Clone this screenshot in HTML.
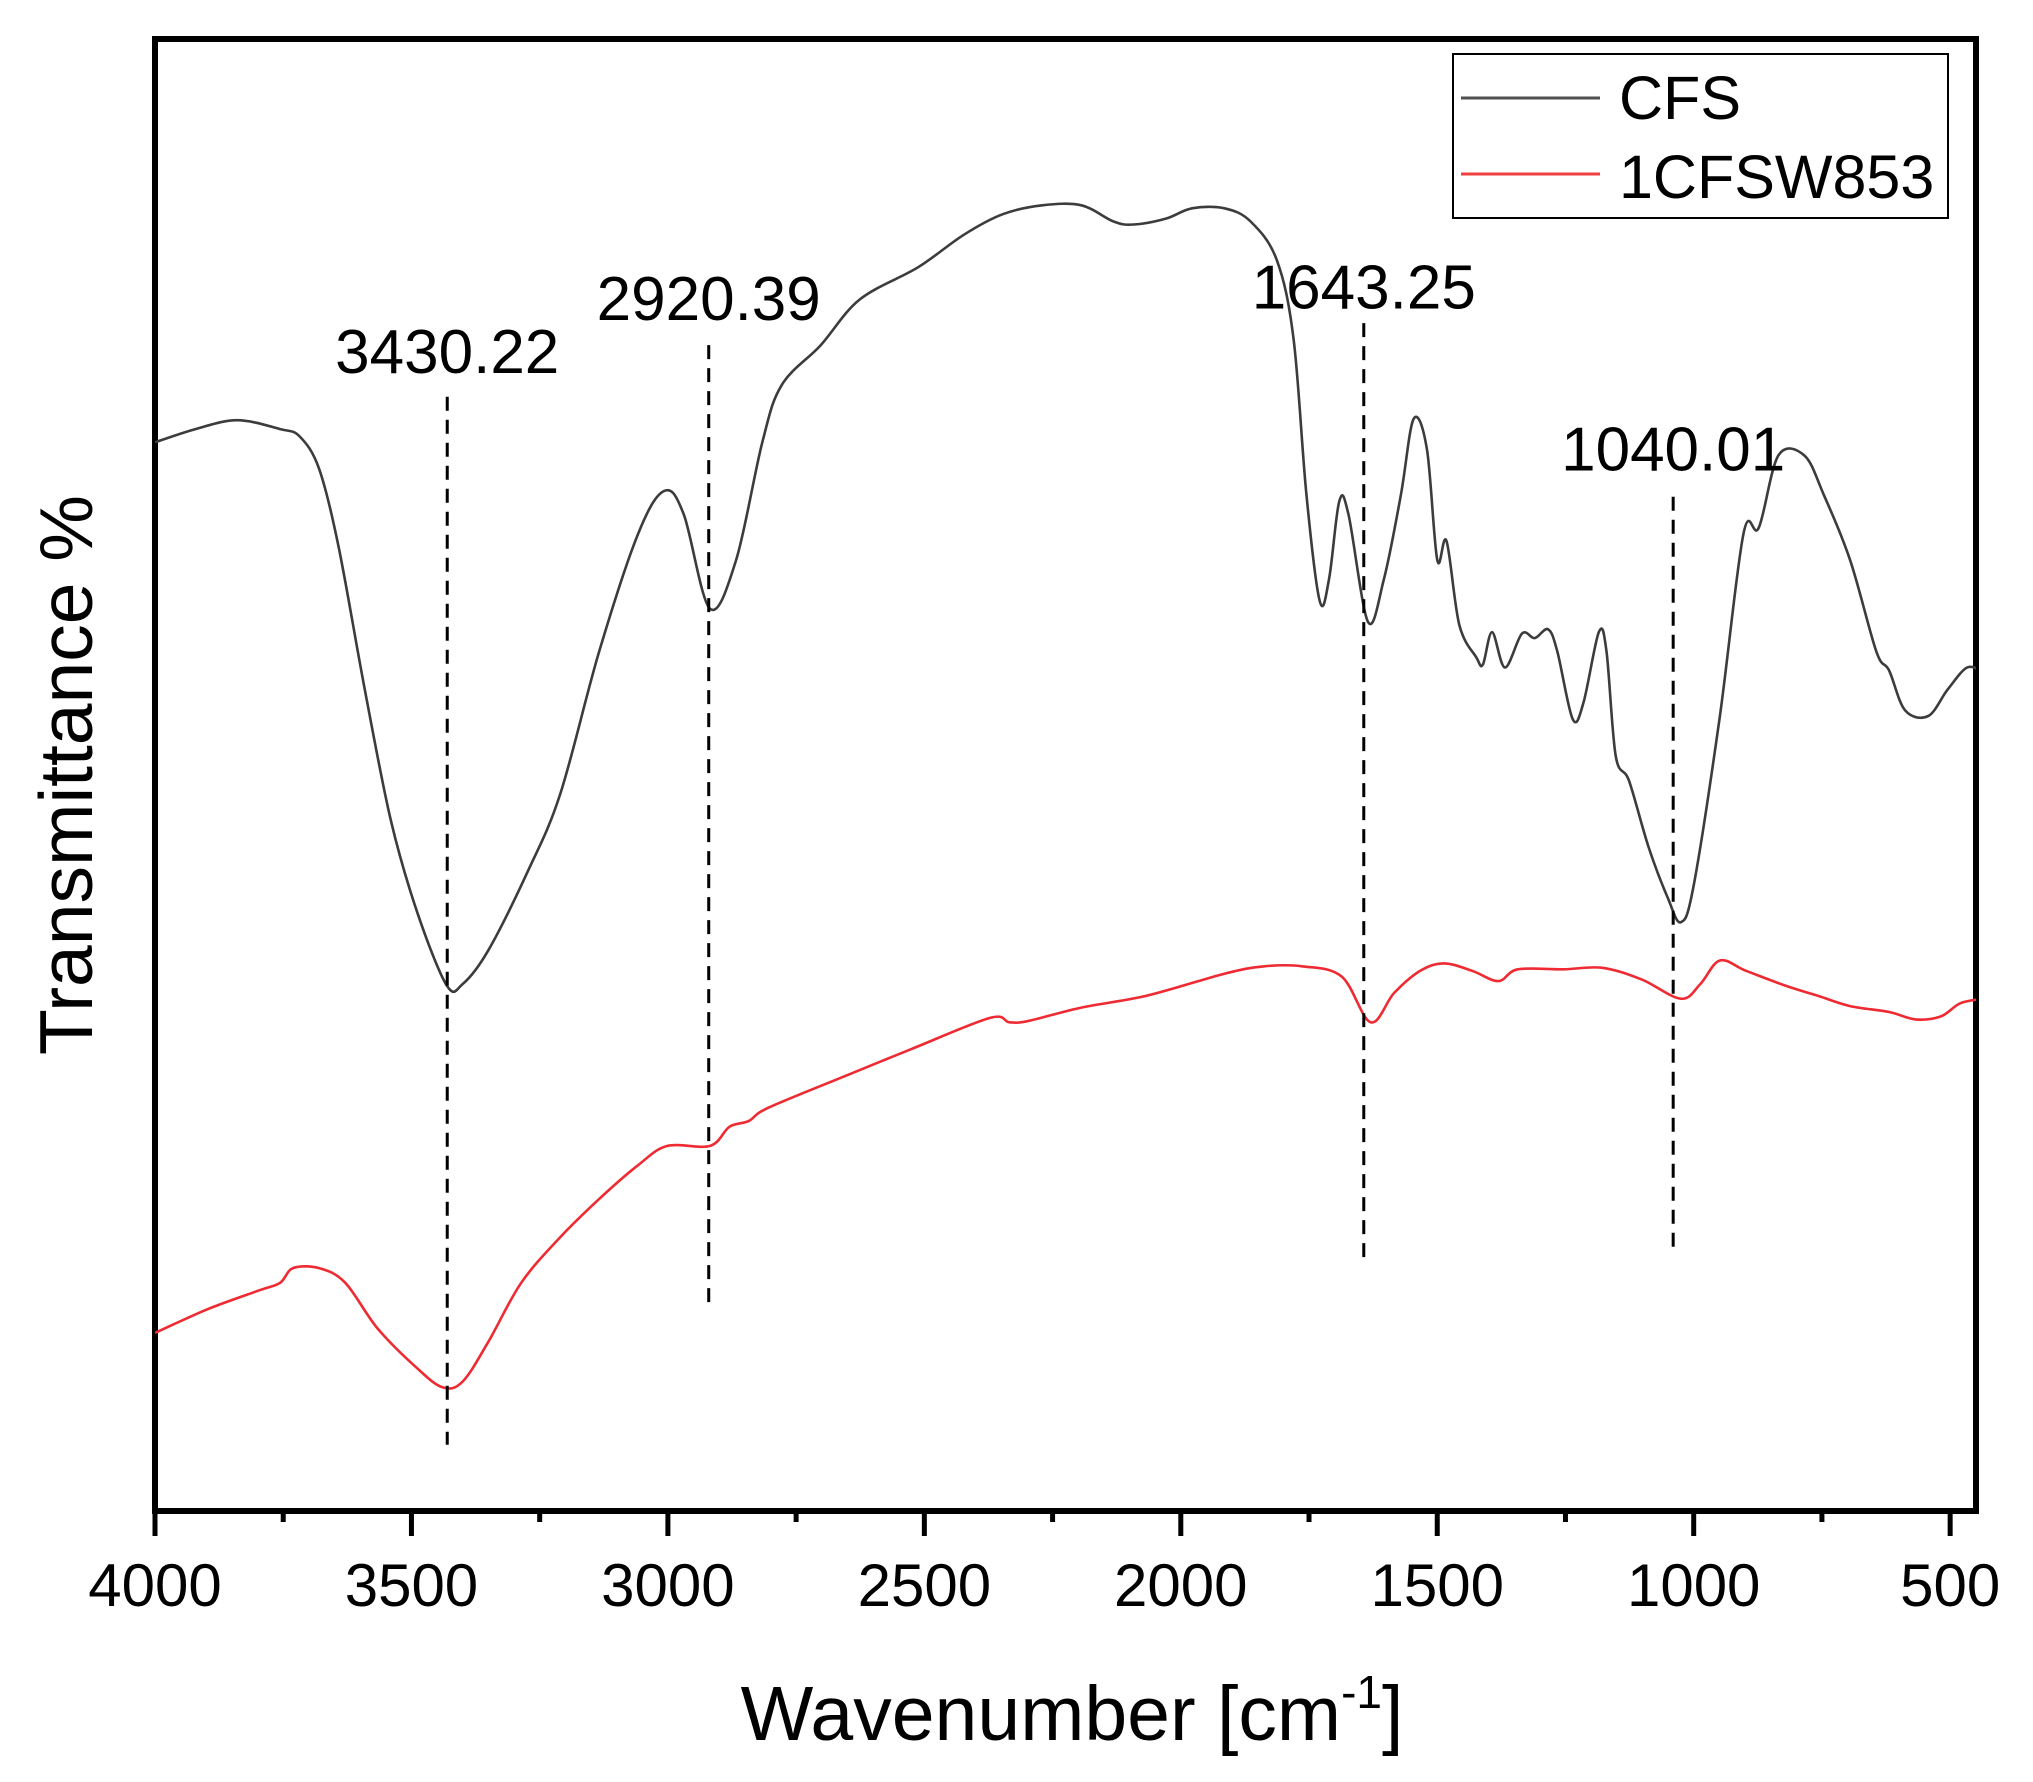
<!DOCTYPE html>
<html><head><meta charset="utf-8"><style>
html,body{margin:0;padding:0;background:#fff;}
svg{display:block;font-family:"Liberation Sans",Arial,sans-serif;}
</style></head><body>
<svg id="chart" width="2033" height="1782" viewBox="0 0 2033 1782" xmlns="http://www.w3.org/2000/svg">
<defs><clipPath id="plotclip"><rect x="155" y="39" width="1821" height="1472"/></clipPath></defs>
<rect x="155" y="39" width="1821" height="1472" fill="none" stroke="#000" stroke-width="6"/>
<g id="xaxis"></g>
<g id="series" clip-path="url(#plotclip)"></g>
<g id="annots"></g>
<text x="1072" y="1740" font-size="77" text-anchor="middle">Wavenumber [cm<tspan dy="-32" font-size="46">-1</tspan><tspan dy="32">]</tspan></text>
<text transform="translate(92,775) rotate(-90)" font-size="75" text-anchor="middle">Transmittance %</text>
<g>
<rect x="1453" y="54" width="495" height="164" fill="#fff" stroke="#000" stroke-width="2"/>
<line x1="1461" y1="98" x2="1600" y2="98" stroke="#505050" stroke-width="3"/>
<text x="1619" y="119" font-size="61">CFS</text>
<line x1="1461" y1="174" x2="1600" y2="174" stroke="#f04040" stroke-width="3"/>
<text x="1619" y="198" font-size="61">1CFSW853</text>
</g>
</svg>
<script>
const xTicks = [4000,3500,3000,2500,2000,1500,1000,500];
const xMinorTicks = [3750,3250,2750,2250,1750,1250,750];
const cfsWave = [4000,3921,3840,3756,3718,3680,3642,3591,3540,3489,3431,3400,3350,3274,3210,3134,3058,3007,2969,2918,2867,2816,2778,2702,2626,2512,2423,2347,2270,2194,2131,2092,2029,1978,1915,1864,1813,1780,1755,1729,1711,1691,1673,1635,1604,1571,1546,1520,1500,1482,1457,1424,1411,1393,1368,1335,1310,1284,1266,1236,1215,1185,1170,1152,1126,1088,1050,1025,1000,949,903,873,835,784,746,695,644,619,588,543,505,467,436];
const cfsValues = [72.6,73.5,74.1,73.5,73.0,70.8,65.5,55.8,46.9,40.7,35.7,35.8,38.1,43.4,48.7,58.4,66.4,69.3,67.7,61.3,64.6,72.6,76.5,79.2,82.3,84.5,86.7,88.1,88.7,88.7,87.6,87.4,87.8,88.5,88.5,87.6,85.0,79.6,69.0,61.8,63.3,68.6,67.7,60.4,63.3,69.0,74.2,72.1,64.6,65.9,60.2,58.0,57.5,59.7,57.3,59.6,59.3,59.9,58.4,53.8,54.9,59.7,58.4,51.3,49.6,45.1,41.6,40.0,42.5,54.0,66.4,66.8,71.7,71.7,69.0,64.6,58.4,57.1,54.4,54.0,55.8,57.3,57.0];
const redWave = [4000,3898,3796,3756,3731,3680,3629,3566,3489,3439,3400,3350,3286,3210,3134,3058,3001,2918,2880,2842,2804,2651,2524,2372,2334,2296,2194,2067,1915,1839,1762,1686,1630,1584,1533,1487,1432,1381,1343,1254,1178,1101,1025,987,949,898,822,758,695,619,568,518,480,436];
const redValues = [12.1,13.7,15.0,15.5,16.5,16.5,15.5,12.4,9.7,8.4,8.8,11.5,15.5,18.6,21.2,23.5,24.8,24.8,26.1,26.5,27.4,29.6,31.4,33.5,33.2,33.3,34.2,35.0,36.5,37.0,37.0,36.3,33.2,35.2,36.7,37.2,36.7,36.0,36.8,36.8,36.9,36.1,34.8,35.8,37.4,36.7,35.7,35.0,34.3,33.9,33.4,33.6,34.5,34.8];
const peakWaves = [3430.22,2920.39,1643.25,1040.01];
const peakLabels = ["3430.22","2920.39","1643.25","1040.01"];
const peakLabelValues = [77.3,80.9,81.7,70.7];
const peakLineTop = [75.7,79.2,80.7,68.9];
const peakLineBottom = [4.5,13.8,17.0,17.9];

const NS = "http://www.w3.org/2000/svg";
function xs(w){ return 155 + (4000 - w) * 0.5129; }
function ys(v){ return 1511 - v * 14.72; }
function mk(tag, attrs, parent){ const e=document.createElementNS(NS,tag); for(const k in attrs) e.setAttribute(k,attrs[k]); parent.appendChild(e); return e; }

const xa = document.getElementById('xaxis');
xTicks.forEach(t=>{
  const l = mk('line',{x1:xs(t),x2:xs(t),y1:1510,y2:1536,stroke:'#000','stroke-width':5},xa);
  
  
  const tx = mk('text',{x:xs(t),y:1606,'font-size':60,'text-anchor':'middle'},xa);
  tx.textContent = t;
  
  
});
xMinorTicks.forEach(t=>{
  const l = mk('line',{x1:xs(t),x2:xs(t),y1:1510,y2:1522,stroke:'#000','stroke-width':5},xa);
  
  
});

function smoothPath(ws,vs){
  const P = ws.map((w,i)=>[xs(w),ys(vs[i])]);
  let d = 'M'+P[0][0].toFixed(1)+','+P[0][1].toFixed(1);
  for(let i=0;i<P.length-1;i++){
    const p0=P[Math.max(0,i-1)], p1=P[i], p2=P[i+1], p3=P[Math.min(P.length-1,i+2)];
    const c1=[p1[0]+(p2[0]-p0[0])/6, p1[1]+(p2[1]-p0[1])/6];
    const c2=[p2[0]-(p3[0]-p1[0])/6, p2[1]-(p3[1]-p1[1])/6];
    d+=' C'+c1[0].toFixed(1)+','+c1[1].toFixed(1)+' '+c2[0].toFixed(1)+','+c2[1].toFixed(1)+' '+p2[0].toFixed(1)+','+p2[1].toFixed(1);
  }
  return d;
}
const sg = document.getElementById('series');
const p1 = mk('path',{d:smoothPath(cfsWave,cfsValues),fill:'none',stroke:'#3c3c3c','stroke-width':2.6,'stroke-linejoin':'round'},sg);


const p2 = mk('path',{d:smoothPath(redWave,redValues),fill:'none',stroke:'#ee2b33','stroke-width':2.6,'stroke-linejoin':'round'},sg);



const ag = document.getElementById('annots');
peakWaves.forEach((w,i)=>{
  const l = mk('line',{x1:xs(w),x2:xs(w),y1:ys(peakLineTop[i]),y2:ys(peakLineBottom[i]),stroke:'#000','stroke-width':3,'stroke-dasharray':'14,9'},ag);
  
  
  const t = mk('text',{x:xs(w),y:ys(peakLabelValues[i]),'font-size':62,'text-anchor':'middle'},ag);
  t.textContent = peakLabels[i];
  
  
});
</script>
</body></html>
